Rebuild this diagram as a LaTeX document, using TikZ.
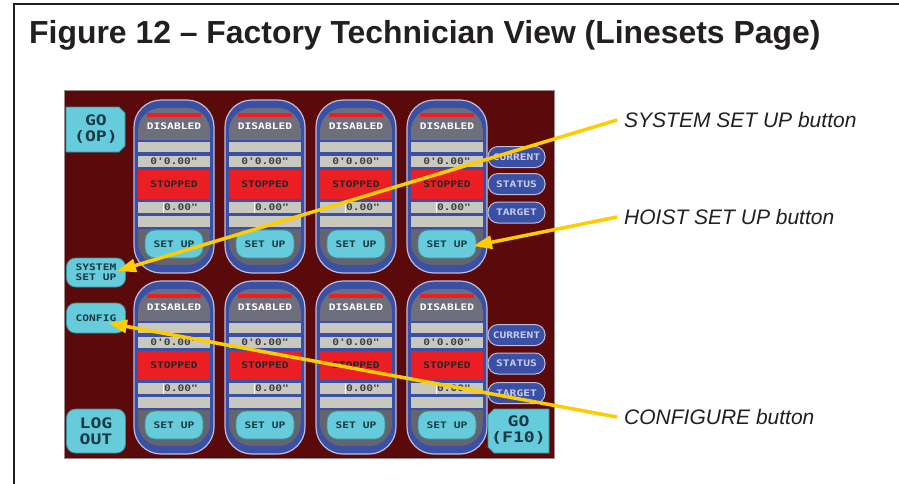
\documentclass[tikz,border=0pt]{standalone}
\usepackage{fontspec}
\setmainfont{Liberation Sans}
\setmonofont[FakeStretch=1.25]{DejaVu Sans Mono}
\usetikzlibrary{arrows.meta,calc}
\definecolor{ink}{HTML}{231F20}
\definecolor{panelred}{HTML}{5A0A0A}
\definecolor{panelrim}{HTML}{9A8A8A}
\definecolor{capblue}{HTML}{3A50A5}
\definecolor{caprim}{HTML}{BDBDDC}
\definecolor{hdrgray}{HTML}{6E6E7D}
\definecolor{botgray}{HTML}{64646E}
\definecolor{fieldgray}{HTML}{C8C8BE}
\definecolor{stopred}{HTML}{EB1E23}
\definecolor{btncyan}{HTML}{66CCDB}
\definecolor{btnedge}{HTML}{3D8E9C}
\definecolor{btntext}{HTML}{153A45}
\definecolor{pilltext}{HTML}{C8CCEE}
\definecolor{ylw}{HTML}{FFCC00}
\begin{document}
\begin{tikzpicture}[x=1pt,y=-1pt,
  scr/.style={font=\ttfamily\bfseries\fontsize{9}{10}\selectfont, inner sep=0},
  big/.style={font=\ttfamily\bfseries\fontsize{14.5}{16}\selectfont, inner sep=0, align=center, text=btntext},
  callout/.style={anchor=west, inner sep=0, font=\itshape\fontsize{21}{24}\selectfont, text=ink},
  lead/.style={draw=ylw, line width=3.5pt, -{Triangle[length=19pt,width=13pt]}},
  cyanbtn/.style={fill=btncyan, draw=btnedge, line width=0.8pt, rounded corners=9pt},
  setupbtn/.style={cyanbtn, scr, text=btntext, minimum width=58pt, minimum height=28pt, rounded corners=10pt},
  pill/.style={draw=caprim, fill=capblue, line width=1pt, rounded corners=10pt, minimum width=57pt, minimum height=21pt, scr, text=pilltext}
]
\useasboundingbox (0,0) rectangle (899,483);
\fill[white] (0,0) rectangle (899,483);
% outer frame
\draw[ink, line width=2.5pt, line join=miter] (14,484) -- (14,4) -- (900,4);
% title
\node[anchor=base west, inner sep=0, font=\bfseries\fontsize{31.9}{34}\selectfont, text=ink] (title) at (29,43) {Figure 12 – Factory Technician View (Linesets Page)};
% screen panel
\draw[fill=panelred, draw=panelrim, line width=1pt] (64,90) rectangle (554,458);
% capsules
\foreach \c in {0,1,2,3}{
  \foreach \T/\r in {100/a,281/b}{
    \pgfmathsetmacro{\L}{134+91*\c}
    \draw[fill=capblue, draw=caprim, line width=1.2pt, rounded corners=27pt] (\L,\T) rectangle (\L+80,\T+173);
    \begin{scope}
      \clip[rounded corners=23pt] (\L+4,\T+8) rectangle (\L+76,\T+165);
      \fill[hdrgray] (\L+4,\T+8) rectangle (\L+76,\T+40);
      \fill[botgray] (\L+4,\T+129) rectangle (\L+76,\T+165);
    \end{scope}
    \fill[stopred] (\L+13,\T+13) rectangle (\L+67,\T+16.5);
    \node[scr, text=white] (dis-\c-\r) at (\L+40,\T+26) {DISABLED};
    \fill[fieldgray] (\L+4,\T+42) rectangle (\L+76,\T+52);
    \fill[fieldgray] (\L+4,\T+56) rectangle (\L+76,\T+67);
    \node[scr, text=black!75] (pos-\c-\r) at (\L+40,\T+61.5) {0'0.00"};
    \fill[stopred] (\L+4,\T+70) rectangle (\L+76,\T+99);
    \node[scr, text=black!85] (stp-\c-\r) at (\L+40,\T+84.5) {STOPPED};
    \fill[fieldgray] (\L+4,\T+102) rectangle (\L+76,\T+113);
    \draw[white, line width=0.8pt] (\L+29,\T+102) -- (\L+29,\T+113);
    \node[scr, text=black!75] (tgt-\c-\r) at (\L+47,\T+107.5) {0.00"};
    \fill[fieldgray] (\L+4,\T+116) rectangle (\L+76,\T+127);
    \node[setupbtn] (su-\c-\r) at (\L+40,\T+144) {SET UP};
  }
}
% right pills
\node[pill] (cur-a) at (516.5,157) {CURRENT};
\node[pill] (sta-a) at (516.5,184) {STATUS};
\node[pill] (tar-a) at (516.5,212.5) {TARGET};
\node[pill] (cur-b) at (516.5,335) {CURRENT};
\node[pill] (sta-b) at (516.5,363.5) {STATUS};
\node[pill] (tar-b) at (516.5,393) {TARGET};
% left buttons
\fill[btncyan, draw=btnedge, line width=0.8pt] (66,107) -- (119,107) -- (125,113) -- (125,146) -- (119,152) -- (66,152) -- cycle;
\node[big] (goop) at (96,129.5) {GO\\(OP)};
\node[cyanbtn, minimum width=59pt, minimum height=29pt, inner sep=0, align=center, scr, text=btntext] (sys) at (96,272.5) {SYSTEM\\SET UP};
\node[cyanbtn, minimum width=59pt, minimum height=30pt, inner sep=0, scr, text=btntext] (cfg) at (96,318) {CONFIG};
\node[cyanbtn, minimum width=59pt, minimum height=44pt, inner sep=0, big] (logout) at (96,431) {LOG\\OUT};
\fill[btncyan, draw=btnedge, line width=0.8pt] (494,409) -- (549,409) -- (549,453) -- (494,453) -- (488,447) -- (488,415) -- cycle;
\node[big] (gof) at (518.5,430.5) {GO\\(F10)};
% callouts
\node[callout] (sysl) at (624,120) {SYSTEM SET UP button};
\node[callout] (hoistl) at (624,217) {HOIST SET UP button};
\node[callout] (cfgl) at (624,417) {CONFIGURE button};
\draw[lead] ([xshift=-7pt]sysl.west) -- ($(sys.center)+(21,-1.5)$);
\draw[lead] ([xshift=-7pt]hoistl.west) -- ($(su-3-a.center)+(26,2)$);
\draw[lead] ([xshift=-7pt]cfgl.west) -- ($(cfg.center)+(12,5)$);
\end{tikzpicture}
\end{document}
